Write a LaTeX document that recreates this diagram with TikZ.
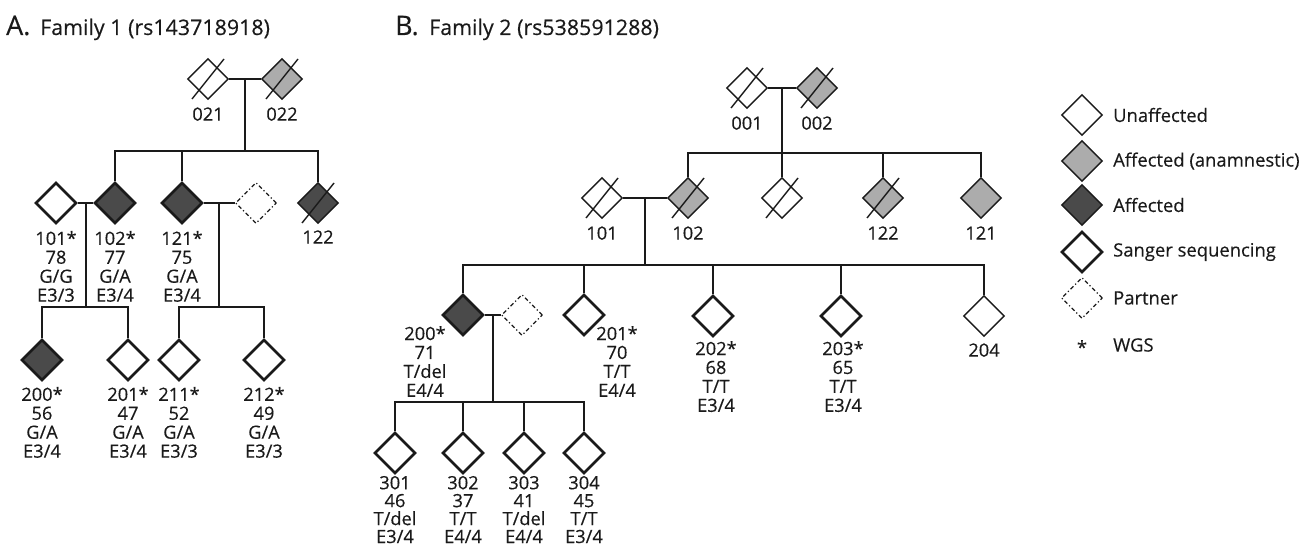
\documentclass[tikz,border=0pt]{standalone}
\usepackage{fontspec}
\setmainfont{Open Sans}[FakeBold=0.35]
\usetikzlibrary{shapes.geometric,positioning}
\definecolor{txt}{HTML}{1A1A1A}
\definecolor{lgray}{HTML}{ACACAC}
\definecolor{dgray}{HTML}{4A4A4A}
\tikzset{
  person/.style={shape=diamond,draw=txt,line width=1.4bp,minimum width=41bp,minimum height=41bp,inner sep=0pt,fill=white},
  unaff/.style={person},
  anam/.style={person,fill=lgray},
  aff/.style={person,fill=dgray},
  sanger/.style={line width=2.6bp},
  partner/.style={person,line width=1.2bp,dash pattern=on 4bp off 2.5bp on 1.2bp off 2.5bp},
  conn/.style={draw=txt,line width=1.4bp},
  lbl/.style={font=\fontsize{18.3}{19}\selectfont,text=txt,align=center,inner sep=0pt},
  lblt/.style={font=\fontsize{18.3}{18}\selectfont,text=txt,align=center,inner sep=0pt},
  leg/.style={font=\fontsize{18.5}{19}\selectfont,text=txt,anchor=west,inner sep=0pt},
  ttl/.style={font=\fontsize{21.5}{24}\selectfont,text=txt,anchor=base west,inner sep=0pt},
  ttlL/.style={font=\fontsize{27}{30}\selectfont,text=txt,anchor=base west,inner sep=0pt}
}
\newcommand{\deceased}[1]{\draw[conn] ([shift={(-16bp,-20bp)}]#1.center) -- ([shift={(16bp,20bp)}]#1.center);}
\begin{document}
\begin{tikzpicture}[x=1bp,y=-1bp]
\useasboundingbox (0,0) rectangle (1303,548);
% Titles
\node[ttlL] (tA) at (6,35) {A.};
\node[ttl] (tA2) at (40,35) {Family 1 (rs143718918)};
\node[ttlL] (tB) at (395,35) {B.};
\node[ttl] (tB2) at (429,35) {Family 2 (rs538591288)};

% ===== Family 1 =====
\node[unaff] (a021) at (208,79) {};
\node[anam] (a022) at (282,79) {};
\deceased{a021}\deceased{a022}
\coordinate (am1) at (245,79);
\coordinate (as1) at (245,151);
\draw[conn] (a021.east) -- (a022.west);
\draw[conn] (am1) -- (as1);
\node[unaff,sanger] (a101) at (56,203) {};
\node[aff,sanger] (a102) at (115,203) {};
\node[aff,sanger] (a121) at (182,203) {};
\node[partner] (ap1) at (256,203) {};
\node[aff] (a122) at (318,203) {};
\deceased{a122}
\draw[conn] (a102.north) |- (as1) -| (a122.north);
\draw[conn] (a121.north) -- (a121.north |- as1);
\coordinate (am2) at (86,203);
\coordinate (as2) at (86,307);
\draw[conn] (a101.east) -- (a102.west);
\draw[conn] (am2) -- (as2);
\coordinate (am3) at (219,203);
\coordinate (as3) at (219,307);
\draw[conn] (a121.east) -- (ap1.west);
\draw[conn] (am3) -- (as3);
\node[aff,sanger] (a200) at (42,360) {};
\node[unaff,sanger] (a201) at (128,360) {};
\node[unaff,sanger] (a211) at (179,360) {};
\node[unaff,sanger] (a212) at (264,360) {};
\draw[conn] (a200.north) |- (as2) -| (a201.north);
\draw[conn] (a211.north) |- (as3) -| (a212.north);
% labels family 1
\node[lbl,below=7bp of a021] (la021) {021};
\node[lbl,below=7bp of a022] (la022) {022};
\node[lbl,below=6bp of a101] (la101) {101*\\78\\G/G\\E3/3};
\node[lbl,below=6bp of a102] (la102) {102*\\77\\G/A\\E3/4};
\node[lbl,below=6bp of a121] (la121) {121*\\75\\G/A\\E3/4};
\node[lbl,below=6bp of a122] (la122) {122};
\node[lbl,below=5bp of a200] (la200) {200*\\56\\G/A\\E3/4};
\node[lbl,below=5bp of a201] (la201) {201*\\47\\G/A\\E3/4};
\node[lbl,below=5bp of a211] (la211) {211*\\52\\G/A\\E3/3};
\node[lbl,below=5bp of a212] (la212) {212*\\49\\G/A\\E3/3};

% ===== Family 2 =====
\node[unaff] (b001) at (747,88) {};
\node[anam] (b002) at (817,88) {};
\deceased{b001}\deceased{b002}
\coordinate (bm1) at (782,88);
\coordinate (bs1) at (782,153);
\draw[conn] (b001.east) -- (b002.west);
\draw[conn] (bm1) -- (bs1);
\node[unaff] (b101) at (602,198) {};
\node[anam] (b102) at (688,198) {};
\node[unaff] (b103) at (782,198) {};
\node[anam] (b122) at (883,198) {};
\node[anam] (b121) at (981,198) {};
\deceased{b101}\deceased{b102}\deceased{b103}\deceased{b122}
\draw[conn] (b102.north) |- (bs1) -| (b121.north);
\draw[conn] (bs1) -- (b103.north);
\draw[conn] (b122.north) -- (b122.north |- bs1);
\coordinate (bm2) at (645,198);
\coordinate (bs2) at (645,265);
\draw[conn] (b101.east) -- (b102.west);
\draw[conn] (bm2) -- (bs2);
\node[aff,sanger] (b200) at (463,315) {};
\node[partner] (bp2) at (522,315) {};
\node[unaff,sanger] (b201) at (584,315) {};
\node[unaff,sanger] (b202) at (713,316) {};
\node[unaff,sanger] (b203) at (841,316) {};
\node[unaff] (b204) at (984,316) {};
\draw[conn] (b200.north) |- (bs2) -| (b204.north);
\draw[conn] (b201.north) -- (b201.north |- bs2);
\draw[conn] (b202.north) -- (b202.north |- bs2);
\draw[conn] (b203.north) -- (b203.north |- bs2);
\coordinate (bm3) at (493,315);
\coordinate (bs3) at (493,402);
\draw[conn] (b200.east) -- (bp2.west);
\draw[conn] (bm3) -- (bs3);
\node[unaff,sanger] (b301) at (395,453) {};
\node[unaff,sanger] (b302) at (463,453) {};
\node[unaff,sanger] (b303) at (524,453) {};
\node[unaff,sanger] (b304) at (584,453) {};
\draw[conn] (b301.north) |- (bs3) -| (b304.north);
\draw[conn] (b302.north) -- (b302.north |- bs3);
\draw[conn] (b303.north) -- (b303.north |- bs3);
% labels family 2
\node[lbl,below=7bp of b001] (lb001) {001};
\node[lbl,below=7bp of b002] (lb002) {002};
\node[lbl,below=7bp of b101] (lb101) {101};
\node[lbl,below=7bp of b102] (lb102) {102};
\node[lbl,below=7bp of b122] (lb122) {122};
\node[lbl,below=7bp of b121] (lb121) {121};
\node[lbl,anchor=north] (lb200) at (425,326) {200*\\71\\T/del\\E4/4};
\node[lbl,anchor=north] (lb201) at (617,326) {201*\\70\\T/T\\E4/4};
\node[lbl,anchor=north] (lb202) at (716,341) {202*\\68\\T/T\\E3/4};
\node[lbl,anchor=north] (lb203) at (843,341) {203*\\65\\T/T\\E3/4};
\node[lbl,below=6bp of b204] (lb204) {204};
\node[lblt,below=1bp of b301] (lb301) {301\\46\\T/del\\E3/4};
\node[lblt,below=1bp of b302] (lb302) {302\\37\\T/T\\E4/4};
\node[lblt,below=1bp of b303] (lb303) {303\\41\\T/del\\E4/4};
\node[lblt,below=1bp of b304] (lb304) {304\\45\\T/T\\E3/4};

% ===== Legend =====
\node[unaff] (g1) at (1082,115) {};
\node[anam] (g2) at (1082,161) {};
\node[aff] (g3) at (1082,205) {};
\node[unaff,sanger] (g4) at (1082,252) {};
\node[partner] (g5) at (1082,298) {};
\node[lbl] (g6) at (1082,347) {*};
\node[leg] (t1) at (1113,115) {Unaffected};
\node[leg] (t2) at (1113,161) {Affected (anamnestic)};
\node[leg] (t3) at (1113,205) {Affected};
\node[leg] (t4) at (1113,252) {Sanger sequencing};
\node[leg] (t5) at (1113,298) {Partner};
\node[leg] (t6) at (1113,345) {WGS};
\end{tikzpicture}
\end{document}
